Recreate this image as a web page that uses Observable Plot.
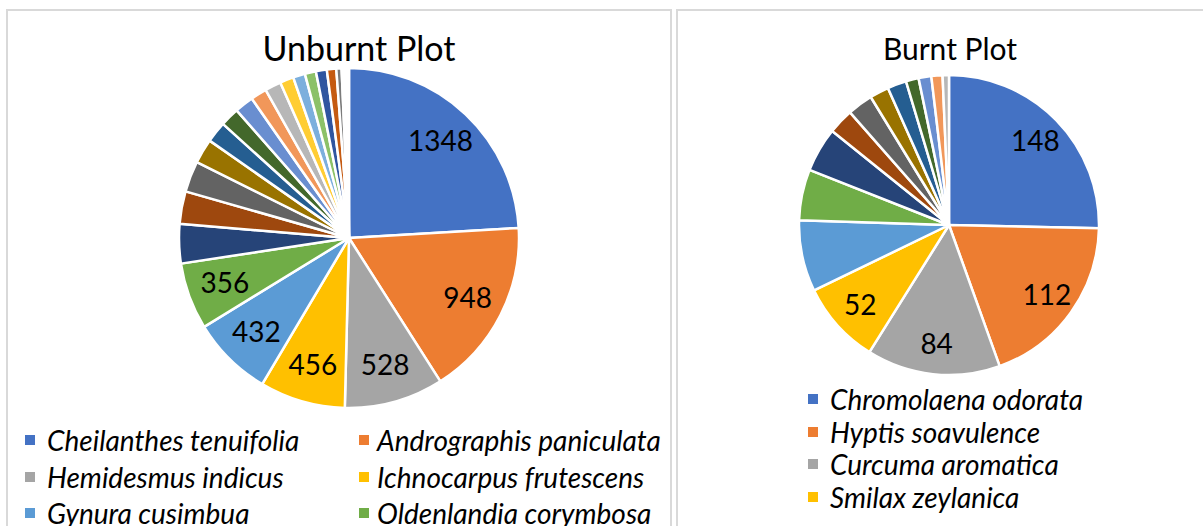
<!DOCTYPE html>
<html>
<head>
<meta charset="utf-8">
<script src="https://cdn.jsdelivr.net/npm/d3@7"></script>
<script src="https://cdn.jsdelivr.net/npm/@observablehq/plot@0.6"></script>
<style>
  html, body { margin: 0; padding: 0; background: #fff; width: 1203px; height: 526px; overflow: hidden; font-family: Lato, "Open Sans", sans-serif; }
  .panel { position: absolute; border: 2px solid #d9d9d9; box-sizing: border-box; background: #fff; }
  .title { position: absolute; color: #000; text-align: center; white-space: nowrap; transform: translate(-50%, -50%); }
  .chart { position: absolute; }
  .leg { position: absolute; font-size: 28px; font-style: italic; color: #000; white-space: nowrap; transform: translateY(-50%); }
  .sw { position: absolute; width: 10px; height: 10px; transform: translateY(-50%); }
</style>
</head>
<body>
<div class="panel" style="left:6px; top:9px; width:666px; height:560px;"></div>
<div class="panel" style="left:676px; top:9px; width:560px; height:560px;"></div>
<div id="root"></div>
<script>
// ---- data ----
const unburntTitle = "Unburnt Plot";
const unburntSpecies = [
  "Cheilanthes tenuifolia", "Andrographis paniculata", "Hemidesmus indicus",
  "Ichnocarpus frutescens", "Gynura cusimbua", "Oldenlandia corymbosa",
  "Species 7", "Species 8", "Species 9", "Species 10", "Species 11", "Species 12",
  "Species 13", "Species 14", "Species 15", "Species 16", "Species 17", "Species 18",
  "Species 19", "Species 20", "Species 21", "Species 22", "Species 23", "Species 24",
  "Species 25", "Species 26"
];
const unburntCounts = [1348, 948, 528, 456, 432, 356, 210, 173, 165, 131, 112, 101, 101,
  86, 86, 73, 64, 59, 58, 50, 28, 12, 10, 8, 5, 4];
const unburntLabelled = 6;

const burntTitle = "Burnt Plot";
const burntSpecies = [
  "Chromolaena odorata", "Hyptis soavulence", "Curcuma aromatica", "Smilax zeylanica",
  "Species 5", "Species 6", "Species 7", "Species 8", "Species 9", "Species 10",
  "Species 11", "Species 12", "Species 13", "Species 14", "Species 15"
];
const burntCounts = [148, 112, 84, 52, 45, 32, 28, 16, 16, 12, 12, 8, 8, 7, 4];
const burntLabelled = 4;

const palette = [
  "#4472C4", "#ED7D31", "#A5A5A5", "#FFC000", "#5B9BD5", "#70AD47",
  "#264478", "#9E480E", "#636363", "#997300", "#255E91", "#43682B",
  "#698ED0", "#F1975A", "#B7B7B7", "#FFCD33", "#7CAFDD", "#8CC168",
  "#2F55A0", "#C55A11", "#7B7B7B", "#BF9000", "#2E75B6", "#548235",
  "#8FAADC", "#F4B183"
];

const root = document.getElementById("root");

function pie(species, counts, nLabels, size, labelR) {
  const data = species.map((s, i) => ({species: s, value: counts[i], i}));
  const arcs = d3.pie().sort(null).value(d => d.value)(data);
  const labels = arcs.slice(0, nLabels).map(a => {
    const mid = (a.startAngle + a.endAngle) / 2;
    return {x: labelR * Math.sin(mid), y: labelR * Math.cos(mid), text: String(a.data.value)};
  });
  const m = 10;
  return Plot.plot({
    width: size, height: size,
    margin: m,
    x: {domain: [-1, 1], axis: null},
    y: {domain: [-1, 1], axis: null},
    color: {domain: species, range: palette},
    style: {background: "transparent", overflow: "visible"},
    marks: [
      (index, scales) => {
        const cx = scales.x(0), cy = scales.y(0);
        const r = scales.x(1) - scales.x(0);
        const arc = d3.arc().innerRadius(0).outerRadius(r);
        const g = d3.create("svg:g").attr("transform", `translate(${cx},${cy})`);
        g.selectAll("path").data(arcs).join("path")
          .attr("d", arc)
          .attr("fill", d => scales.color(d.data.species))
          .attr("stroke", "#fff")
          .attr("stroke-width", 2.5)
          .attr("stroke-linejoin", "round");
        return g.node();
      },
      Plot.text(labels, {x: "x", y: "y", text: "text", fontSize: 28, fill: "#000",
        fontFamily: "Lato, 'Open Sans', sans-serif"})
    ]
  });
}

function place(el, left, top) {
  const wrap = document.createElement("div");
  wrap.className = "chart";
  wrap.style.left = left + "px";
  wrap.style.top = top + "px";
  wrap.appendChild(el);
  root.appendChild(wrap);
}

function title(text, cx, cy, size) {
  const d = document.createElement("div");
  d.className = "title";
  d.textContent = text;
  d.style.left = cx + "px";
  d.style.top = cy + "px";
  d.style.fontSize = size + "px";
  root.appendChild(d);
}

function legendItem(text, color, sx, tx, cy) {
  const s = document.createElement("div");
  s.className = "sw";
  s.style.left = sx + "px";
  s.style.top = cy + "px";
  s.style.background = color;
  root.appendChild(s);
  const t = document.createElement("div");
  t.className = "leg";
  t.textContent = text;
  t.style.left = tx + "px";
  t.style.top = cy + "px";
  root.appendChild(t);
}

// Unburnt: center (348.5, 238), radius 170
place(pie(unburntSpecies, unburntCounts, unburntLabelled, 360, 0.78), 348.5 - 180, 238 - 180);
title(unburntTitle, 359, 47, 34);
unburntSpecies.slice(0, 6).forEach((s, i) => {
  const col = i % 2, row = Math.floor(i / 2);
  legendItem(s, palette[i], col ? 359 : 25, col ? 377 : 47, 440 + row * 36.5);
});

// Burnt: center (948.5, 225), radius 150
place(pie(burntSpecies, burntCounts, burntLabelled, 320, 0.8), 948.5 - 160, 225 - 160);
title(burntTitle, 950, 48, 30);
burntSpecies.slice(0, 4).forEach((s, i) => {
  legendItem(s, palette[i], 808, 830, 399 + i * 32.5);
});
</script>
</body>
</html>
